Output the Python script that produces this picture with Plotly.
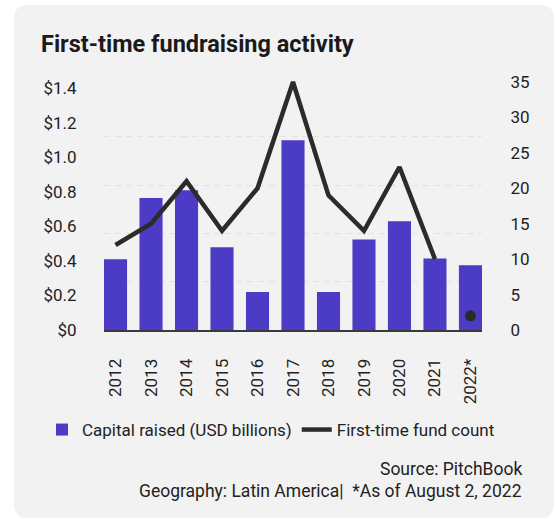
import plotly.graph_objects as go

# Data
years = ["2012", "2013", "2014", "2015", "2016", "2017", "2018", "2019", "2020", "2021", "2022*"]
capital_raised = [0.41, 0.765, 0.81, 0.48, 0.22, 1.10, 0.22, 0.525, 0.63, 0.415, 0.375]
fund_count = [12, 15, 21, 14, 20, 35, 19, 14, 23, 10, 2]

left_tick_vals = [0, 0.2, 0.4, 0.6, 0.8, 1.0, 1.2, 1.4]
left_tick_text = ["$0", "$0.2", "$0.4", "$0.6", "$0.8", "$1.0", "$1.2", "$1.4"]
right_tick_vals = [0, 5, 10, 15, 20, 25, 30, 35]

W, H = 555, 519
FONT = "Roboto"
TEXT = "#222222"
BAR = "#4B3BC5"
LINE = "#2B2B2B"


def px_x(v):
    return v / W


def px_y(v):
    return 1 - v / H


# Layout geometry (pixels)
plot_left, plot_right = 104, 482
bars_top, plot_bottom = 88.5, 330
line_top = 71.5

fig = go.Figure()

# invisible carrier so the dashed guide-line axis gets drawn
fig.add_trace(go.Scatter(
    x=years[:1], y=[0], mode="markers", marker=dict(opacity=0),
    showlegend=False, hoverinfo="skip", xaxis="x", yaxis="y3",
))

fig.add_trace(go.Bar(
    x=years, y=capital_raised, name="Capital raised (USD billions)",
    marker=dict(color=BAR, line=dict(width=0)),
    xaxis="x", yaxis="y",
))

# line for completed years, lone marker for the partial year
fig.add_trace(go.Scatter(
    x=years[:-1], y=fund_count[:-1], name="First-time fund count",
    mode="lines", line=dict(color=LINE, width=4.5),
    xaxis="x2", yaxis="y2",
))
fig.add_trace(go.Scatter(
    x=years[-1:], y=fund_count[-1:], mode="markers", showlegend=False,
    marker=dict(color=LINE, size=11),
    xaxis="x2", yaxis="y2",
))


def rounded_rect(x0, y0, x1, y1, r):
    ax0, ax1 = px_x(x0), px_x(x1)
    ay0, ay1 = px_y(y0), px_y(y1)
    rx, ry = r / W, r / H
    return (
        f"M {ax0 + rx},{ay0} L {ax1 - rx},{ay0} Q {ax1},{ay0} {ax1},{ay0 - ry} "
        f"L {ax1},{ay1 + ry} Q {ax1},{ay1} {ax1 - rx},{ay1} "
        f"L {ax0 + rx},{ay1} Q {ax0},{ay1} {ax0},{ay1 + ry} "
        f"L {ax0},{ay0 - ry} Q {ax0},{ay0} {ax0 + rx},{ay0} Z"
    )


xdom = [px_x(plot_left), px_x(plot_right)]
xrange_ = [-0.325, len(years) - 1 + 0.325]

fig.update_layout(
    width=W, height=H,
    margin=dict(l=0, r=0, t=0, b=0, autoexpand=False),
    paper_bgcolor="white",
    plot_bgcolor="rgba(0,0,0,0)",
    font=dict(family=FONT, color=TEXT, size=17),
    bargap=0.35,
    title=dict(
        text="<b>First-time fundraising activity</b>",
        x=px_x(41), xanchor="left", xref="paper",
        y=px_y(44), yanchor="middle", yref="paper",
        font=dict(family=FONT, size=23.5, color="#1a1a1a"),
        automargin=False,
    ),
    shapes=[dict(
        type="path", xref="paper", yref="paper", layer="below",
        path=rounded_rect(14, 5, 554, 518, 14),
        fillcolor="#F2F2F2", line=dict(width=0),
    )],
    xaxis=dict(
        domain=xdom, type="category", range=xrange_,
        tickangle=-90, ticks="outside", ticklen=20, tickcolor="rgba(0,0,0,0)",
        tickfont=dict(size=17, color=TEXT),
        showline=True, linecolor="#3A3A3A", linewidth=2,
        showgrid=False, zeroline=False, fixedrange=True, automargin=False,
    ),
    yaxis=dict(
        domain=[px_y(plot_bottom), px_y(bars_top)], anchor="x",
        range=[0, 1.4], tickvals=left_tick_vals, ticktext=left_tick_text,
        ticks="outside", ticklen=23, tickcolor="rgba(0,0,0,0)",
        tickfont=dict(size=17, color=TEXT),
        showgrid=False, zeroline=False, showline=False, automargin=False,
    ),
    # dashed guide lines
    yaxis3=dict(
        domain=[px_y(plot_bottom), px_y(bars_top)], overlaying="y", anchor="x",
        range=[0, 5], dtick=1, showticklabels=False, ticks="",
        showgrid=True, gridcolor="#E2E2E2", griddash="6px,5px", gridwidth=1.3,
        zeroline=False, showline=False, automargin=False,
    ),
    xaxis2=dict(
        domain=xdom, type="category", range=xrange_, anchor="y2",
        visible=False, showgrid=False, automargin=False,
    ),
    yaxis2=dict(
        domain=[px_y(plot_bottom), px_y(line_top)], anchor="x2", side="right",
        range=[0, (plot_bottom - line_top) / ((plot_bottom - 82) / 35)],
        tickvals=right_tick_vals,
        ticks="outside", ticklen=24, tickcolor="rgba(0,0,0,0)",
        tickfont=dict(size=17, color=TEXT),
        showgrid=False, zeroline=False, showline=False, automargin=False,
    ),
    legend=dict(
        orientation="h", x=px_x(42), xanchor="left",
        y=px_y(430), yanchor="middle",
        font=dict(size=17, color=TEXT),
        bgcolor="rgba(0,0,0,0)", itemwidth=30, tracegroupgap=0,
    ),
    annotations=[
        dict(text="Source: PitchBook", xref="paper", yref="paper",
             x=px_x(524), y=px_y(469), xanchor="right", yanchor="middle",
             showarrow=False, font=dict(size=17.5, color=TEXT)),
        dict(text="Geography: Latin America|  *As of August 2, 2022", xref="paper", yref="paper",
             x=px_x(524), y=px_y(491), xanchor="right", yanchor="middle",
             showarrow=False, font=dict(size=17.5, color=TEXT)),
    ],
)

fig.write_html("out.html")
